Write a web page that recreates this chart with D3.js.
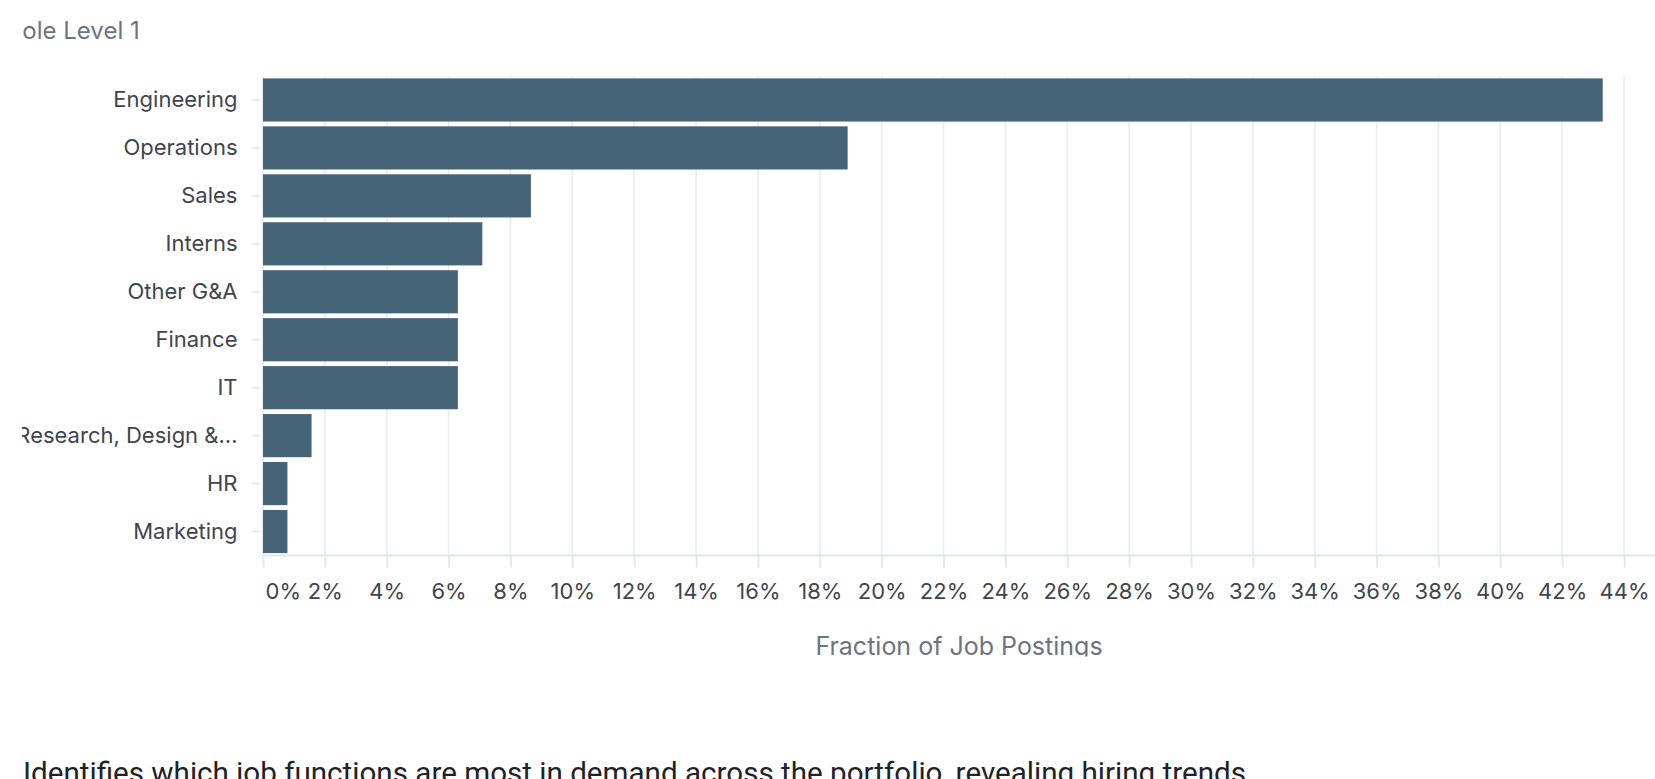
<!DOCTYPE html>
<html>
<head>
<meta charset="utf-8">
<script src="https://cdn.jsdelivr.net/npm/d3@7"></script>
<style>
  html, body { margin: 0; padding: 0; background: #ffffff; overflow: hidden; }
  #chart { position: absolute; left: 0; top: 0; }
  #desc {
    position: absolute; left: 23px; top: 756px; margin: 0;
    font-family: Roboto, "Noto Sans", sans-serif; font-size: 29.6px;
    line-height: 1.171;
    color: #1f2329; white-space: nowrap;
  }
</style>
</head>
<body>
<svg id="chart" width="1655" height="700"></svg>
<p id="desc">Identifies which job functions are most in demand across the portfolio, revealing hiring trends.</p>
<script>
// Job function categories, in display order
const functions = [
  "Engineering", "Operations", "Sales", "Interns", "Other G&A",
  "Finance", "IT", "Research, Design & Product", "HR", "Marketing"
];
// Share of all job postings per function
const shares = [
  0.4331, 0.1890, 0.0866, 0.0709, 0.0630,
  0.0630, 0.0630, 0.0157, 0.0079, 0.0079
];
// Tick values on the share axis
const shareTicks = d3.range(0, 0.4401, 0.02);

const data = functions.map((f, i) => ({ name: f, share: shares[i] }));

const svg = d3.select("#chart");
const clipLeft = 22, clipBottom = 656.5;

svg.append("defs").append("clipPath").attr("id", "view")
  .append("rect").attr("x", clipLeft).attr("y", 0)
  .attr("width", 1655 - clipLeft).attr("height", clipBottom);

const root = svg.append("g").attr("clip-path", "url(#view)");

const x = d3.scaleLinear().domain([0, 0.45]).range([263, 1655]);
const y = d3.scaleBand().domain(functions).range([76, 555.5])
  .paddingInner(0.1).paddingOuter(0.05);

const fontUI = "Inter, 'Noto Sans', sans-serif";

// Title, anchored so that its first letter sits against the left edge
const titleSize = 24;
const title = root.append("text")
  .attr("y", 38.5)
  .attr("font-family", fontUI).attr("font-size", titleSize)
  .attr("fill", "#6b7483")
  .text("Role Level 1");
const probe = root.append("text").attr("font-family", fontUI).attr("font-size", titleSize).text("R");
const rW = probe.node().getComputedTextLength();
probe.remove();
title.attr("x", 22.7 - rW);

// Vertical gridlines
root.append("g").selectAll("line").data(shareTicks).join("line")
  .attr("x1", d => x(d)).attr("x2", d => x(d))
  .attr("y1", 76).attr("y2", 555.5)
  .attr("stroke", "#eaecf0").attr("stroke-width", 1.7);

// Bars
root.append("g").selectAll("rect").data(data).join("rect")
  .attr("x", x(0))
  .attr("y", d => y(d.name))
  .attr("width", d => x(d.share) - x(0))
  .attr("height", y.bandwidth())
  .attr("fill", "#466478");

// Bottom axis
const xAxis = d3.axisBottom(x)
  .tickValues(shareTicks)
  .tickFormat(d3.format(".0%"))
  .tickSize(12).tickPadding(16);
const gx = root.append("g").attr("transform", "translate(0,555.5)").call(xAxis);
gx.select(".domain").remove();
gx.append("line").attr("x1", x(0)).attr("x2", 1655).attr("y1", 0).attr("y2", 0)
  .attr("stroke", "#e2e5ea").attr("stroke-width", 2);
gx.selectAll(".tick line").attr("stroke", "#e2e5ea").attr("stroke-width", 1.8);
gx.selectAll(".tick text")
  .attr("font-family", fontUI).attr("font-size", 22)
  .attr("fill", "#40454f").attr("dy", "0.71em");
gx.selectAll(".tick text").filter(d => d === 0).attr("text-anchor", "start").attr("x", 2);

// Axis title
root.append("text")
  .attr("x", (x(0) + 1655) / 2).attr("y", 655)
  .attr("text-anchor", "middle")
  .attr("font-family", fontUI).attr("font-size", 25)
  .attr("fill", "#6b7483")
  .text("Fraction of Job Postings");

// Left axis with truncated labels
const labelLimit = 228;
const yAxis = d3.axisLeft(y).tickSize(8.5).tickPadding(14);
const gy = root.append("g").attr("transform", "translate(260,0)").call(yAxis);
gy.select(".domain").remove();
gy.selectAll(".tick line").attr("stroke", "#e2e5ea").attr("stroke-width", 1.6);
gy.selectAll(".tick text")
  .attr("font-family", fontUI).attr("font-size", 22)
  .attr("fill", "#40454f")
  .each(function(d) {
    const t = d3.select(this);
    if (this.getComputedTextLength() <= labelLimit) return;
    let s = d;
    while (s.length > 1) {
      s = s.slice(0, -1);
      t.text(s.trimEnd() + "…");
      if (this.getComputedTextLength() <= labelLimit) break;
    }
  });
</script>
</body>
</html>
